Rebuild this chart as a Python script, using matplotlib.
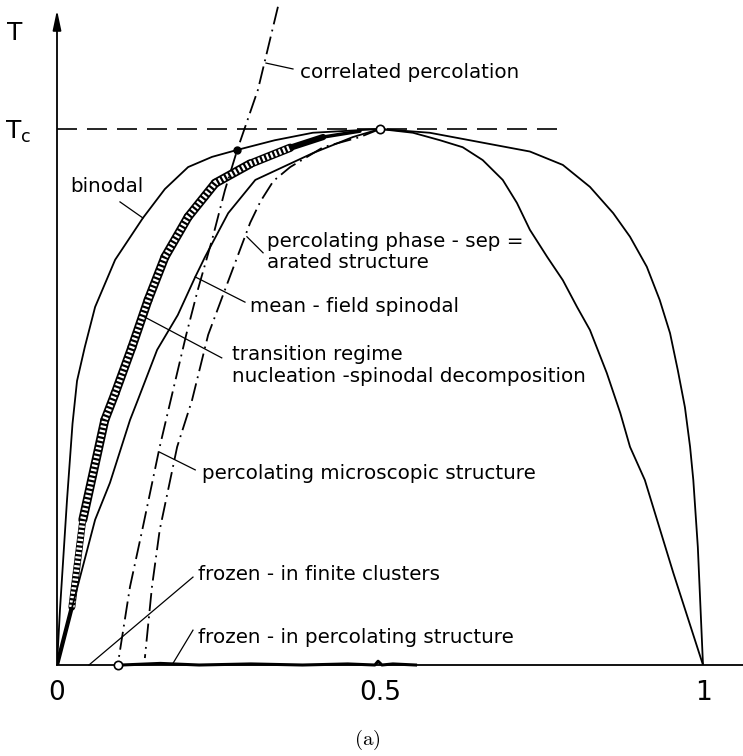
"""
Phase diagram of a binary mixture: binodal, mean-field spinodal,
transition regime and the percolation lines inside the coexistence region.
"""

import numpy as np
import matplotlib.pyplot as plt
from matplotlib.collections import LineCollection

# concentration x and reduced temperature T/Tc along each curve
binodal_x = [0.0, 0.0046, 0.0155, 0.024, 0.031, 0.043, 0.059, 0.090, 0.133, 0.167,
             0.203, 0.240, 0.279, 0.337, 0.396, 0.5, 0.577, 0.639, 0.732,
             0.783, 0.825, 0.861, 0.887, 0.913, 0.933, 0.949, 0.961, 0.972, 0.980,
             0.985, 0.992, 1.0]
binodal_t = [0.0, 0.103, 0.308, 0.45, 0.53, 0.593, 0.668, 0.756, 0.834, 0.888,
             0.929, 0.948, 0.961, 0.979, 0.993, 1.0, 0.993, 0.979, 0.958,
             0.933, 0.892, 0.843, 0.799, 0.743, 0.681, 0.619, 0.550, 0.481, 0.407,
             0.345, 0.220, 0.0]

spinodal_x = [0.0, 0.059, 0.082, 0.113, 0.125, 0.155, 0.187, 0.214, 0.229, 0.265,
              0.307, 0.396, 0.458, 0.5, 0.551, 0.593, 0.628, 0.659, 0.690, 0.712,
              0.732, 0.759, 0.783, 0.805, 0.825, 0.851, 0.872, 0.887, 0.910, 0.954,
              1.0]
spinodal_t = [0.0, 0.271, 0.340, 0.457, 0.494, 0.588, 0.653, 0.724, 0.761, 0.843,
              0.905, 0.955, 0.985, 1.0, 0.993, 0.979, 0.966, 0.942, 0.905, 0.862,
              0.812, 0.761, 0.718, 0.668, 0.625, 0.545, 0.470, 0.407, 0.345, 0.172,
              0.0]

# centre of the nucleation / spinodal-decomposition transition band
band_x = [0.0, 0.023, 0.040, 0.074, 0.090, 0.116, 0.141, 0.167, 0.203, 0.245,
          0.299, 0.361, 0.412, 0.469]
band_t = [0.0, 0.108, 0.271, 0.457, 0.507, 0.593, 0.681, 0.761, 0.836, 0.899,
          0.935, 0.965, 0.985, 0.996]
band_widths = [3.0, 5.0, 6.5, 6.5, 6.5, 6.5, 6.5, 6.5, 6.5, 6.5, 6.0, 4.5, 2.5]

# correlated percolation line (ends at the percolation threshold on T = 0)
corr_x = [0.342, 0.311, 0.279, 0.260, 0.240, 0.218, 0.200, 0.176, 0.159, 0.132,
          0.113, 0.094]
corr_t = [1.228, 1.073, 0.961, 0.886, 0.793, 0.700, 0.616, 0.494, 0.407, 0.252,
          0.146, 0.0]

# percolating phase-separated structure
perc_x = [0.5, 0.469, 0.412, 0.361, 0.335, 0.315, 0.299, 0.260, 0.234, 0.209,
          0.186, 0.159, 0.147, 0.136]
perc_t = [1.0, 0.985, 0.966, 0.929, 0.903, 0.865, 0.825, 0.700, 0.616, 0.494,
          0.407, 0.252, 0.146, 0.013]

# frozen-in percolating structure drawn along T = 0
frozen_x = [0.10, 0.16, 0.22, 0.30, 0.38, 0.45, 0.492, 0.497, 0.503, 0.52, 0.555]
frozen_t = [0.0, 0.003, 0.0, 0.002, 0.0, 0.002, 0.0, 0.007, 0.0, 0.002, 0.0]

critical_point = (0.5, 1.0)
threshold_point = (0.094, 0.0)
crossing_point = (0.279, 0.961)

xtick_vals = [0, 0.5, 1]
xtick_labels = ['0', '0.5', '1']

W, H = 743, 756
fig = plt.figure(figsize=(W / 100, H / 100), dpi=100)
ax = fig.add_axes([57 / W, 91 / H, 686 / W, 660 / H])
ax.set_xlim(0, 686 / 646)
ax.set_ylim(0, 660 / 536)

lw = 1.3
dashdot = (0, (10, 3, 1, 3))

# Tc reference line
ax.plot([0, 0.779], [1, 1], color='black', lw=1.2, ls=(0, (12, 6)), zorder=1)

# transition band: black ribbon with white rungs
pts = np.column_stack([band_x, band_t])
segs = np.stack([pts[:-1], pts[1:]], axis=1)
ax.add_collection(LineCollection(segs, linewidths=band_widths, colors='black',
                                 capstyle='round', zorder=2))
ax.plot(band_x[1:12], band_t[1:12], color='white', lw=4.0,
        dashes=(0.4, 0.4), dash_capstyle='butt', zorder=3)

ax.plot(binodal_x, binodal_t, color='black', lw=lw, zorder=4)
ax.plot(spinodal_x, spinodal_t, color='black', lw=lw, zorder=4)
ax.plot(corr_x, corr_t, color='black', lw=lw, ls=dashdot, zorder=5, clip_on=False)
ax.plot(perc_x, perc_t, color='black', lw=lw, ls=dashdot, zorder=5)
ax.plot(frozen_x, frozen_t, color='black', lw=2.2, zorder=5, clip_on=False)

ax.plot(*critical_point, 'o', ms=6, mfc='white', mec='black', mew=1.2, zorder=7, clip_on=False)
ax.plot(*threshold_point, 'o', ms=6, mfc='white', mec='black', mew=1.2, zorder=7, clip_on=False)
ax.plot(*crossing_point, 'o', ms=5, color='black', zorder=7)

# axes: plain x axis, T axis with arrow head
for side in ['top', 'right', 'left']:
    ax.spines[side].set_visible(False)
ax.spines['bottom'].set_linewidth(1.3)
ax.annotate('', xy=(0, 1.222), xytext=(0, 0), annotation_clip=False,
            arrowprops=dict(arrowstyle='-|>,head_length=0.85,head_width=0.18',
                            lw=1.3, color='black', shrinkA=0, shrinkB=0,
                            mutation_scale=14))

ax.set_xticks(xtick_vals)
ax.set_xticklabels(xtick_labels, fontsize=19)
ax.tick_params(axis='x', length=0, pad=11)
ax.set_yticks([1])
ax.set_yticklabels([r'T$_\mathrm{c}$'], fontsize=18)
ax.tick_params(axis='y', length=0, pad=19)
ax.text(-0.065, 1.179, 'T', fontsize=18, ha='center', va='center', clip_on=False)

# labels with leader lines
fs = 14.3
labels = [
    ('correlated percolation', (0.376, 1.106), [(0.3235, 1.123), (0.3653, 1.112)]),
    ('binodal', (0.020, 0.892), [(0.0975, 0.864), (0.133, 0.834)]),
    ('percolating phase - sep =\narated structure', (0.325, 0.771),
     [(0.294, 0.799), (0.319, 0.769)]),
    ('mean - field spinodal', (0.299, 0.668), [(0.214, 0.724), (0.291, 0.677)]),
    ('transition regime\nnucleation -spinodal decomposition', (0.271, 0.559),
     [(0.136, 0.649), (0.255, 0.573)]),
    ('percolating microscopic structure', (0.2245, 0.358), [(0.159, 0.397), (0.214, 0.364)]),
    ('frozen - in finite clusters', (0.218, 0.168), [(0.0495, 0.0), (0.2105, 0.164)]),
    ('frozen - in percolating structure', (0.218, 0.052), [(0.180, 0.004), (0.2105, 0.065)]),
]
for text, (tx, ty), leader in labels:
    ax.text(tx, ty, text, fontsize=fs, ha='left', va='center', linespacing=1.15,
            clip_on=False)
    (x0, y0), (x1, y1) = leader
    ax.plot([x0, x1], [y0, y1], color='black', lw=0.9, zorder=6, clip_on=False)

fig.text(367 / W, 1 - 740 / H, r'$\mathrm{(a)}$', fontsize=15, ha='center',
         va='center', math_fontfamily='cm')

fig.savefig('out.png', dpi=100)
